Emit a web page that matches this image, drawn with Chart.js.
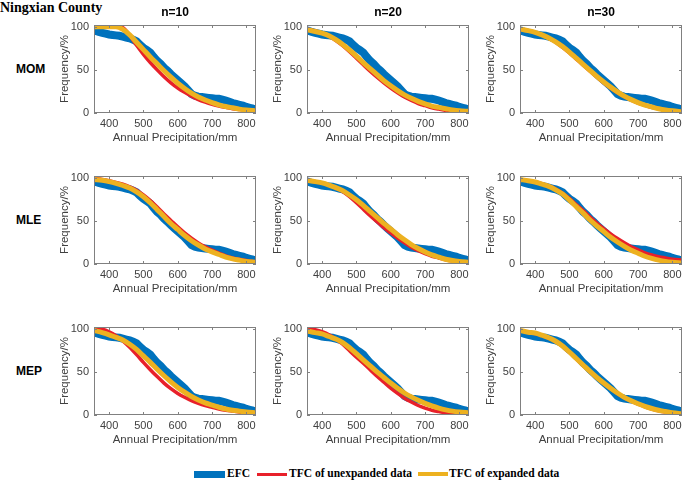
<!DOCTYPE html>
<html>
<head>
<meta charset="utf-8">
<script src="https://cdn.jsdelivr.net/npm/chart.js@4.4.0/dist/chart.umd.min.js"></script>
<style>
  body { margin: 0; background: #fff; }
  #page { position: relative; width: 685px; height: 485px; overflow: hidden; background: #fff; }
  canvas { position: absolute; }
  .county { position: absolute; left: 0; top: 0; font: bold 14px "Liberation Serif", serif; line-height: 16px; color: #000; }
  .coltitle { position: absolute; top: 5px; width: 162px; text-align: center; font: bold 12px "Liberation Sans", Arial, sans-serif; line-height: 14px; color: #000; }
  .rowlabel { position: absolute; left: 16px; font: bold 12px "Liberation Sans", Arial, sans-serif; line-height: 14px; color: #000; }
  .lg-text { position: absolute; top: 467px; font: bold 11.5px "Liberation Serif", serif; line-height: 13px; color: #000; white-space: nowrap; }
  .lg-swatch { position: absolute; }
</style>
</head>
<body>
<div id="page">
  <div class="county">Ningxian County</div>
</div>
<script>
// Tick labels and text
const xTicks = [400, 500, 600, 700, 800];
const yTicks = [0, 50, 100];
const colTitles = ['n=10', 'n=20', 'n=30'];
const rowLabels = ['MOM', 'MLE', 'MEP'];

// Empirical frequency curve (same for every panel)
const efcX = [356, 370, 380, 390, 400, 410, 420, 430, 440, 450, 460, 470, 480, 490, 500, 510, 520, 530, 540, 550,
              560, 570, 580, 590, 600, 610, 620, 630, 640, 650, 660, 670, 680, 690, 700, 710, 720, 730, 740, 750,
              760, 770, 780, 790, 800, 810, 820, 828];
const efcY = [96, 94, 93, 92, 91, 90.5, 90, 89.5, 88.5, 87.5, 86.5, 85, 83, 79, 75.5, 73, 70, 65, 60.5, 57,
              52.5, 49, 45, 41.5, 38, 34.5, 31, 26.5, 22, 20, 19, 18.5, 18, 17.5, 17, 16.5, 16.5, 15.5, 14.5, 13,
              11.5, 10.5, 9.5, 8.5, 7, 6, 5, 4.5];

// Theoretical frequency curves, sampled at tfcX
const tfcX = [356, 380, 400, 420, 440, 460, 480, 500, 520, 540, 560, 580, 600, 620, 640, 660, 680, 700, 720, 740, 760, 780, 800, 828];

const momUnexp10 = [100, 100, 100, 100, 99, 90, 78.5, 68, 58.5, 50, 42, 35, 29, 24, 19.5, 15.5, 12.5, 10, 8, 6.5, 5, 4, 3, 2];
const momExp10   = [100, 100, 100, 100, 97, 90.5, 82, 73.5, 65, 57, 49, 41.5, 34.5, 28.5, 23, 18.5, 15, 12, 9.5, 7.5, 6, 4.5, 3.5, 2.5];
const momUnexp20 = [97.5, 95, 92.5, 89, 84, 78, 71, 63.5, 56, 48.5, 41.5, 35, 29, 23.5, 18.5, 14.5, 11, 8.5, 6, 4.5, 3, 2, 1.5, 1];
const momExp20   = [96.5, 94.5, 92.5, 89.5, 85, 79.5, 73, 66, 58.5, 51.5, 44.5, 37.5, 31.5, 26, 21, 17, 13.5, 10.5, 8, 6.5, 5, 3.5, 2.5, 2];
const momUnexp30 = [97.5, 95.5, 93.5, 90.5, 86.5, 82, 76, 69.5, 62.5, 55.5, 48.5, 41.5, 35, 29, 23.5, 19, 15, 11.5, 9, 6.5, 5, 3.5, 2.5, 1.5];
const momExp30   = [97.5, 95.5, 93.5, 90.5, 87, 82.5, 77, 70.5, 63.5, 56.5, 49.5, 42.5, 36, 30, 24.5, 19.5, 15.5, 12, 9, 7, 5, 3.5, 2.5, 1.5];

const mleUnexp10 = [99, 98, 96.5, 94.5, 92.5, 89.5, 85.5, 80, 73.5, 66, 58, 50.5, 43, 36, 30, 24.5, 20, 16, 12.5, 9.5, 7, 5.5, 4, 2.5];
const mleExp10   = [98, 97, 95.5, 93.5, 91, 88, 83.5, 78, 71, 63, 55, 47, 40, 33, 27, 22, 17.5, 14, 11, 8, 6, 4.5, 3, 2];
const mleUnexp20 = [97.5, 95.5, 94, 91.5, 88, 84, 78, 71, 63.5, 56, 49, 42, 36, 30, 24.5, 19.5, 15.5, 12, 9, 7, 5, 3.5, 2.5, 1.5];
const mleExp20   = [97, 95.5, 94, 91.5, 88.5, 85, 80, 74.5, 68, 61, 54, 47, 40.5, 34, 28, 22.5, 18, 14, 10.5, 8, 5.5, 4, 3, 2];
const mleUnexp30 = [98, 96.5, 95, 93, 90.5, 87, 82, 76, 69, 62, 54.5, 47.5, 41, 35, 29.5, 24.5, 20, 16.5, 13, 10.5, 8.5, 7, 5.5, 4.5];
const mleExp30   = [98, 96.5, 95, 92.5, 90, 86, 81, 74, 66.5, 59, 51, 44, 37.5, 31, 25.5, 20.5, 16, 12.5, 9, 6.5, 4.5, 3, 2, 1];

const mepUnexp10 = [101, 99.5, 96.5, 92, 86, 78.5, 70, 61, 52.5, 44.5, 37, 30.5, 25, 20.5, 16.5, 13.5, 11, 9, 7, 5.5, 4.5, 3.5, 2.5, 2];
const mepExp10   = [98, 95.5, 93, 90, 87, 82, 76, 68.5, 61, 53, 45.5, 38.5, 32, 26.5, 21.5, 17.5, 14, 11.5, 9, 7, 5.5, 4.5, 3.5, 2.5];
const mepUnexp20 = [101, 99, 96.5, 93, 88, 82, 74.5, 67, 60, 52.5, 45, 38, 31, 25, 19.5, 15, 11, 8, 5.5, 4, 2.5, 1.5, 1, 0.5];
const mepExp20   = [97.5, 95.5, 94, 91, 88, 84, 78, 71, 64, 57, 50, 43.5, 37, 31, 25.5, 21, 17, 13.5, 10.5, 8, 6, 4.5, 3.5, 2.5];
const mepUnexp30 = [98, 96, 94.5, 92, 89, 85, 79.5, 72.5, 65, 57.5, 50, 43, 36.5, 30.5, 25, 20, 16, 12.5, 9.5, 7, 5, 3.5, 2.5, 1.5];
const mepExp30   = [98, 96, 95, 92.5, 89.5, 85.5, 80, 73, 65.5, 58, 50.5, 43.5, 37, 31, 25.5, 20.5, 16.5, 13, 10, 7.5, 5.5, 4, 2.5, 1.5];

const panels = [
  [momUnexp10, momExp10], [momUnexp20, momExp20], [momUnexp30, momExp30],
  [mleUnexp10, mleExp10], [mleUnexp20, mleExp20], [mleUnexp30, mleExp30],
  [mepUnexp10, mepExp10], [mepUnexp20, mepExp20], [mepUnexp30, mepExp30]
];

// Colours
const BLUE = '#0072bd';
const RED = '#e8202a';
const YELLOW = '#edb120';
const TEXT = '#404040';
const BOX = '#808080';

// Layout (plot area of each panel)
const COL_LEFT = [94, 307, 520];
const ROW_TOP = [25, 176, 327];
const PLOT_W = 162, PLOT_H = 88;
const PAD_L = 36, PAD_T = 8, PAD_R = 12, PAD_B = 34;

const page = document.getElementById('page');

// MATLAB-like box with inward ticks on all four sides
const boxPlugin = {
  id: 'matlabBox',
  afterDraw(chart) {
    const { ctx, chartArea: a, scales: { x, y } } = chart;
    ctx.save();
    ctx.strokeStyle = BOX;
    ctx.lineWidth = 1;
    ctx.strokeRect(a.left + 0.5, a.top + 0.5, a.width - 1, a.height - 1);
    ctx.beginPath();
    x.ticks.forEach(t => {
      const px = Math.round(x.getPixelForValue(t.value)) + 0.5;
      ctx.moveTo(px, a.bottom); ctx.lineTo(px, a.bottom - 3);
      ctx.moveTo(px, a.top); ctx.lineTo(px, a.top + 3);
    });
    y.ticks.forEach(t => {
      const py = Math.round(y.getPixelForValue(t.value)) + 0.5;
      ctx.moveTo(a.left, py); ctx.lineTo(a.left + 3, py);
      ctx.moveTo(a.right, py); ctx.lineTo(a.right - 3, py);
    });
    ctx.stroke();
    ctx.restore();
  }
};

function toPoints(xs, ys) {
  return xs.map((v, i) => ({ x: v, y: ys[i] }));
}

function makePanel(row, col, unexp, exp) {
  const canvas = document.createElement('canvas');
  const w = PAD_L + PLOT_W + PAD_R;
  const h = PAD_T + PLOT_H + PAD_B;
  canvas.width = w;
  canvas.height = h;
  canvas.style.width = w + 'px';
  canvas.style.height = h + 'px';
  canvas.style.left = (COL_LEFT[col] - PAD_L) + 'px';
  canvas.style.top = (ROW_TOP[row] - PAD_T) + 'px';
  page.appendChild(canvas);

  const tickFont = { family: 'Liberation Sans', size: 11 };

  new Chart(canvas.getContext('2d'), {
    type: 'line',
    data: {
      datasets: [
        {
          label: 'TFC of expanded data',
          data: toPoints(tfcX, exp),
          borderColor: YELLOW,
          borderWidth: 5,
          cubicInterpolationMode: 'monotone',
          pointRadius: 0,
          order: 0
        },
        {
          label: 'TFC of unexpanded data',
          data: toPoints(tfcX, unexp),
          borderColor: RED,
          borderWidth: 3.5,
          cubicInterpolationMode: 'monotone',
          pointRadius: 0,
          order: 1
        },
        {
          label: 'EFC',
          data: toPoints(efcX, efcY),
          borderColor: BLUE,
          borderWidth: 8,
          tension: 0,
          pointRadius: 0,
          order: 2
        }
      ]
    },
    options: {
      responsive: false,
      animation: false,
      devicePixelRatio: 1,
      layout: { padding: { top: PAD_T, right: PAD_R, left: 0, bottom: 0 } },
      plugins: {
        legend: { display: false },
        tooltip: { enabled: false }
      },
      scales: {
        x: {
          type: 'linear',
          min: 356,
          max: 828,
          afterBuildTicks: s => { s.ticks = xTicks.map(v => ({ value: v })); },
          afterFit: s => { s.height = PAD_B; s.paddingLeft = 0; s.paddingRight = 0; },
          grid: { display: false, drawTicks: false },
          border: { display: false },
          ticks: { padding: 4, color: TEXT, font: tickFont, maxRotation: 0, autoSkip: false },
          title: {
            display: true,
            text: 'Annual Precipitation/mm',
            color: TEXT,
            font: { family: 'Liberation Sans', size: 11.5 },
            padding: { top: 0, bottom: 2 }
          }
        },
        y: {
          type: 'linear',
          min: 0,
          max: 102,
          afterBuildTicks: s => { s.ticks = yTicks.map(v => ({ value: v })); },
          afterFit: s => { s.width = PAD_L; s.paddingTop = 0; s.paddingBottom = 0; },
          grid: { display: false, drawTicks: false },
          border: { display: false },
          ticks: { padding: 5, color: TEXT, font: tickFont, autoSkip: false },
          title: {
            display: true,
            text: 'Frequency/%',
            color: TEXT,
            font: { family: 'Liberation Sans', size: 11.5 },
            padding: { top: 0, bottom: 0 }
          }
        }
      }
    },
    plugins: [boxPlugin]
  });
}

function addText(cls, text, left, top) {
  const d = document.createElement('div');
  d.className = cls;
  d.textContent = text;
  d.style.left = left + 'px';
  if (top !== undefined) d.style.top = top + 'px';
  page.appendChild(d);
}

function addSwatch(left, width, height, color) {
  const s = document.createElement('div');
  s.className = 'lg-swatch';
  s.style.left = left + 'px';
  s.style.top = (474 - height / 2) + 'px';
  s.style.width = width + 'px';
  s.style.height = height + 'px';
  s.style.background = color;
  page.appendChild(s);
}

panels.forEach((p, i) => makePanel(Math.floor(i / 3), i % 3, p[0], p[1]));

colTitles.forEach((t, c) => addText('coltitle', t, COL_LEFT[c]));
rowLabels.forEach((t, r) => addText('rowlabel', t, 16, ROW_TOP[r] + 37));

// Legend
addSwatch(194, 31, 7, BLUE);
addText('lg-text', 'EFC', 227);
addSwatch(257, 30, 3, RED);
addText('lg-text', 'TFC of unexpanded data', 289);
addSwatch(418, 30, 3.5, YELLOW);
addText('lg-text', 'TFC of expanded data', 449);
</script>
</body>
</html>
